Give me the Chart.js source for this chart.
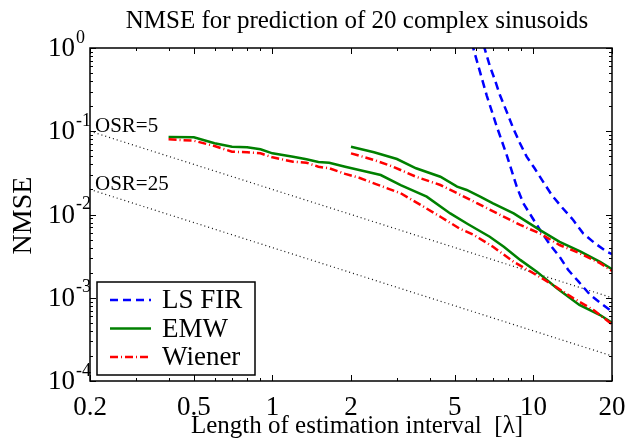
<!DOCTYPE html>
<html>
<head>
<meta charset="utf-8">
<script src="https://cdn.jsdelivr.net/npm/chart.js@4.4.0/dist/chart.umd.min.js"></script>
<style>
  html, body { margin: 0; padding: 0; background: #fff; }
  #wrap { width: 635px; height: 439px; }
</style>
</head>
<body>
<div id="wrap"><canvas id="nmse" width="635" height="439"></canvas></div>
<script>
// tick labels
const xTickLabels = [0.2, 0.5, 1, 2, 5, 10, 20];
const yTickExponents = [0, -1, -2, -3, -4];

// LS FIR (two interval settings)
const lsFirAX = [5.8, 6.62, 7.23, 7.9, 8.63, 9.15, 9.85, 10.6, 11.6, 12.6, 13.6, 14.9, 16.5, 18.5, 20];
const lsFirAY = [1.16, 0.27, 0.115, 0.0518, 0.0216, 0.0136, 0.0094, 0.00651, 0.0043, 0.00311, 0.00215, 0.00156, 0.00108, 0.000818, 0.00068];
const lsFirBX = [6.44, 6.82, 7.12, 7.44, 7.9, 8.37, 8.88, 9.42, 10.1, 11.1, 11.75, 12.8, 14.2, 15.5, 17.2, 19.1, 20];
const lsFirBY = [1.09, 0.596, 0.413, 0.272, 0.1717, 0.1085, 0.0717, 0.0495, 0.0359, 0.0226, 0.01715, 0.0124, 0.00859, 0.00594, 0.00451, 0.00357, 0.00335];

// EMW
const emwAX = [0.4, 0.5, 0.6, 0.7, 0.8, 0.9, 1.0, 1.2, 1.35, 1.5, 1.65, 1.9, 2.15, 2.6, 3.1, 3.9, 4.8, 5.6, 6.8, 7.7, 8.9, 10.3, 12.3, 15, 18, 20];
const emwAY = [0.0855, 0.0846, 0.0717, 0.0652, 0.0642, 0.0607, 0.0543, 0.0495, 0.046, 0.0427, 0.0419, 0.0375, 0.0342, 0.0298, 0.0226, 0.0164, 0.0103, 0.0077, 0.0054, 0.0041, 0.00285, 0.00206, 0.0013, 0.00082, 0.00062, 0.0005];
const emwBX = [2, 2.45, 3, 3.55, 4.4, 5.1, 5.55, 6.25, 7, 8.4, 10.6, 12.6, 15.1, 18, 20];
const emwBY = [0.0652, 0.0559, 0.0464, 0.0359, 0.0284, 0.0216, 0.0197, 0.0164, 0.0136, 0.0103, 0.0065, 0.0047, 0.0036, 0.0027, 0.0022];

// Wiener
const wienerAX = [0.4, 0.5, 0.6, 0.7, 0.8, 0.9, 1.0, 1.2, 1.35, 1.5, 1.65, 1.9, 2.15, 2.65, 3.1, 3.7, 4.4, 5.2, 5.9, 7.0, 8.4, 10, 11.9, 14.2, 17, 20];
const wienerAY = [0.080, 0.077, 0.0665, 0.0568, 0.0559, 0.0543, 0.0486, 0.0431, 0.0419, 0.0375, 0.0359, 0.0308, 0.0276, 0.0216, 0.018, 0.013, 0.0094, 0.0068, 0.0057, 0.0041, 0.0027, 0.00197, 0.00142, 0.00099, 0.00071, 0.00048];
const wienerBX = [2, 2.45, 2.9, 3.55, 4.4, 5.1, 6.1, 7.45, 8.9, 10.6, 12.6, 15.1, 18, 20];
const wienerBY = [0.0543, 0.0452, 0.0375, 0.0284, 0.0226, 0.018, 0.0136, 0.0099, 0.0075, 0.0059, 0.0043, 0.0034, 0.0026, 0.0021];

// oversampling reference lines
const osrX = [0.2, 20];
const osr5Y = [0.1, 0.001];
const osr25Y = [0.02, 0.0002];

const SERIF = '"Liberation Serif", "DejaVu Serif", serif';

function pts(xs, ys) {
	return xs.map((x, i) => ({ x: x, y: ys[i] }));
}

function curve(label, xs, ys, color, dash, order) {
	return {
		label: label,
		data: pts(xs, ys),
		borderColor: color,
		borderWidth: 2.5,
		borderDash: dash,
		pointRadius: 0,
		tension: 0,
		fill: false,
		order: order,
	};
}

const legendItems = [
	{ text: 'LS FIR', color: '#0000ff', dash: [8, 5] },
	{ text: 'EMW', color: '#008000', dash: [] },
	{ text: 'Wiener', color: '#ff0000', dash: [8, 3, 1, 3] },
];

// frame, ticks, labels, legend
const decorPlugin = {
	id: 'decor',
	afterDatasetsDraw(chart) {
		const ctx = chart.ctx;
		const a = chart.chartArea;
		const xs = chart.scales.x;
		const ys = chart.scales.y;
		ctx.save();

		// ticks inside the box on all sides
		ctx.strokeStyle = '#000';
		ctx.lineWidth = 1;
		ctx.beginPath();
		for (let e = -1; e <= 1; e++) {
			for (let m = 1; m <= 9; m++) {
				const v = m * Math.pow(10, e);
				if (v < xs.min - 1e-9 || v > xs.max + 1e-9) continue;
				const px = Math.round(xs.getPixelForValue(v)) + 0.5;
				const len = xTickLabels.includes(+v.toPrecision(3)) ? 6 : 3;
				ctx.moveTo(px, a.bottom); ctx.lineTo(px, a.bottom - len);
				ctx.moveTo(px, a.top); ctx.lineTo(px, a.top + len);
			}
		}
		for (let e = -4; e <= 0; e++) {
			for (let m = 1; m <= 9; m++) {
				const v = m * Math.pow(10, e);
				if (v > ys.max * 1.0001) continue;
				const py = Math.round(ys.getPixelForValue(v)) + 0.5;
				const len = m === 1 ? 6 : 3;
				ctx.moveTo(a.left, py); ctx.lineTo(a.left + len, py);
				ctx.moveTo(a.right, py); ctx.lineTo(a.right - len, py);
			}
		}
		ctx.stroke();

		// frame
		ctx.lineWidth = 1.5;
		ctx.strokeRect(a.left, a.top, a.right - a.left, a.bottom - a.top);

		// OSR labels
		ctx.fillStyle = '#000';
		ctx.font = '21px ' + SERIF;
		ctx.textAlign = 'left';
		ctx.textBaseline = 'alphabetic';
		ctx.fillText('OSR=5', xs.getPixelForValue(osrX[0]) + 5, ys.getPixelForValue(osr5Y[0]) + 1);
		ctx.fillText('OSR=25', xs.getPixelForValue(osrX[0]) + 5, ys.getPixelForValue(osr25Y[0]) + 1);

		// x tick labels
		ctx.font = '27px ' + SERIF;
		ctx.textAlign = 'center';
		ctx.textBaseline = 'alphabetic';
		xTickLabels.forEach(v => {
			ctx.fillText(String(v), xs.getPixelForValue(v), a.bottom + 34);
		});

		// y tick labels 10^n
		yTickExponents.forEach(n => {
			const py = ys.getPixelForValue(Math.pow(10, n));
			ctx.font = '27px ' + SERIF;
			ctx.textAlign = 'right';
			ctx.textBaseline = 'middle';
			ctx.fillText('10', a.left - 15, py + 1);
			ctx.font = '18px ' + SERIF;
			ctx.textAlign = 'left';
			ctx.fillText(n === 0 ? '0' : '-' + Math.abs(n), a.left - 14, py - 10);
		});

		// title and axis titles
		ctx.textAlign = 'center';
		ctx.textBaseline = 'alphabetic';
		ctx.font = '25px ' + SERIF;
		ctx.fillText('NMSE for prediction of 20 complex sinusoids', (a.left + a.right) / 2 + 6, 28);
		ctx.font = '25px ' + SERIF;
		ctx.fillText('Length of estimation interval  [\u03bb]', (a.left + a.right) / 2 + 6, a.bottom + 52);
		ctx.save();
		ctx.translate(24, (a.top + a.bottom) / 2 + 1);
		ctx.rotate(-Math.PI / 2);
		ctx.font = '28px ' + SERIF;
		ctx.textBaseline = 'middle';
		ctx.fillText('NMSE', 0, 0);
		ctx.restore();

		// legend box
		const bx = a.left + 7, by = a.bottom - 99, bw = 158, bh = 93;
		ctx.fillStyle = '#fff';
		ctx.fillRect(bx, by, bw, bh);
		ctx.lineWidth = 1.5;
		ctx.strokeStyle = '#000';
		ctx.strokeRect(bx, by, bw, bh);
		legendItems.forEach((it, i) => {
			const ly = by + 18 + i * 28.5;
			ctx.beginPath();
			ctx.setLineDash(it.dash);
			ctx.strokeStyle = it.color;
			ctx.lineWidth = 2.5;
			ctx.moveTo(bx + 13, ly);
			ctx.lineTo(bx + 54, ly);
			ctx.stroke();
			ctx.setLineDash([]);
			ctx.fillStyle = '#000';
			ctx.font = '27px ' + SERIF;
			ctx.textAlign = 'left';
			ctx.textBaseline = 'middle';
			ctx.fillText(it.text, bx + 65, ly + 1);
		});

		ctx.restore();
	},
};

new Chart(document.getElementById('nmse'), {
	type: 'line',
	data: {
		datasets: [
			{
				label: 'OSR=5', data: pts(osrX, osr5Y), borderColor: '#111', borderWidth: 1.2,
				borderDash: [1, 3], pointRadius: 0, order: 5,
			},
			{
				label: 'OSR=25', data: pts(osrX, osr25Y), borderColor: '#111', borderWidth: 1.2,
				borderDash: [1, 3], pointRadius: 0, order: 5,
			},
			curve('LS FIR', lsFirAX, lsFirAY, '#0000ff', [8, 5], 3),
			curve('LS FIR', lsFirBX, lsFirBY, '#0000ff', [8, 5], 3),
			curve('EMW', emwAX, emwAY, '#008000', [], 2),
			curve('EMW', emwBX, emwBY, '#008000', [], 2),
			curve('Wiener', wienerAX, wienerAY, '#ff0000', [8, 3, 1, 3], 1),
			curve('Wiener', wienerBX, wienerBY, '#ff0000', [8, 3, 1, 3], 1),
		],
	},
	options: {
		responsive: false,
		animation: false,
		devicePixelRatio: 1,
		layout: { padding: { left: 90, top: 48, right: 23, bottom: 58 } },
		plugins: {
			legend: { display: false },
			title: { display: false },
			tooltip: { enabled: false },
		},
		scales: {
			x: { type: 'logarithmic', min: 0.2, max: 20, display: false },
			y: { type: 'logarithmic', min: 1e-4, max: 1, display: false },
		},
	},
	plugins: [decorPlugin],
});
</script>
</body>
</html>
